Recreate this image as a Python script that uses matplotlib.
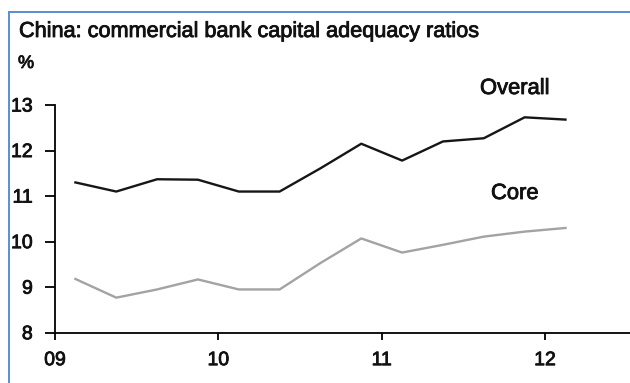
import numpy as np
import matplotlib
matplotlib.use("Agg")
import matplotlib.pyplot as plt
import matplotlib.patheffects as pe
from matplotlib.lines import Line2D

plt.rcParams['font.family'] = ['Liberation Sans', 'DejaVu Sans']

# Quarterly capital adequacy ratios, Q1 2009 - Q1 2012 (%)
quarters = ["2009Q1", "2009Q2", "2009Q3", "2009Q4",
            "2010Q1", "2010Q2", "2010Q3", "2010Q4",
            "2011Q1", "2011Q2", "2011Q3", "2011Q4",
            "2012Q1"]
overall = [11.30, 11.10, 11.37, 11.36, 11.10, 11.10, 11.61,
           12.15, 11.78, 12.20, 12.27, 12.73, 12.68]
core = [9.18, 8.77, 8.95, 9.17, 8.95, 8.95, 9.53,
        10.07, 9.76, 9.93, 10.11, 10.22, 10.30]

year_ticks = [2009, 2010, 2011, 2012]
year_labels = ["09", "10", "11", "12"]

# place each quarter mid-way through its span on a fractional-year axis
x = np.array([int(q[:4]) + (int(q[-1]) - 1) * 0.25 + 0.125 for q in quarters])

# slight stroke so the type looks as heavy as the printed version
heavy = [pe.withStroke(linewidth=0.6, foreground="#111111")]

fig = plt.figure(figsize=(6.30, 3.83), dpi=100)
ax = fig.add_axes([0.0873, 0.1313, 0.9127, 0.5945])

ax.plot(x, overall, color="#161616", lw=1.7, solid_joinstyle="round")
ax.plot(x, core, color="#a3a3a3", lw=1.7, solid_joinstyle="round")

ax.set_xlim(2009, 2012.52)
ax.set_ylim(8, 13)
ax.set_xticks(year_ticks)
ax.set_xticklabels(year_labels)
ax.set_yticks(range(8, 14))

for side in ["top", "right"]:
    ax.spines[side].set_visible(False)
for side in ["left", "bottom"]:
    ax.spines[side].set_linewidth(1.3)
    ax.spines[side].set_color("black")

ax.tick_params(axis="y", direction="out", length=7, width=1.3, pad=9)
ax.tick_params(axis="x", direction="out", length=5, width=1.3, pad=9)
for lbl in ax.get_xticklabels() + ax.get_yticklabels():
    lbl.set_fontsize(14)
    lbl.set_color("#111111")
    lbl.set_path_effects(heavy)

# series names sit next to their lines
fig.text(480 / 630, 1 - 94 / 383, "Overall", fontsize=15.8, va="baseline", ha="left",
         color="#111111", path_effects=heavy)
fig.text(491 / 630, 1 - 199 / 383, "Core", fontsize=15.8, va="baseline", ha="left",
         color="#111111", path_effects=heavy)

fig.text(19 / 630, 1 - 37 / 383, "China: commercial bank capital adequacy ratios",
         fontsize=15.6, va="baseline", ha="left", color="#111111", path_effects=heavy)
fig.text(18 / 630, 1 - 68 / 383, "%", fontsize=13, va="baseline", ha="left",
         color="#111111", path_effects=heavy)

# blue frame along the top and left edges
frame_color = "#5b8ed0"
fig.add_artist(Line2D([9 / 630, 9 / 630], [0, 1 - 11.7 / 383],
                      transform=fig.transFigure, color=frame_color, lw=1.4))
fig.add_artist(Line2D([9 / 630, 1], [1 - 11.7 / 383, 1 - 11.7 / 383],
                      transform=fig.transFigure, color=frame_color, lw=1.4))

fig.savefig("out.png", dpi=100)
